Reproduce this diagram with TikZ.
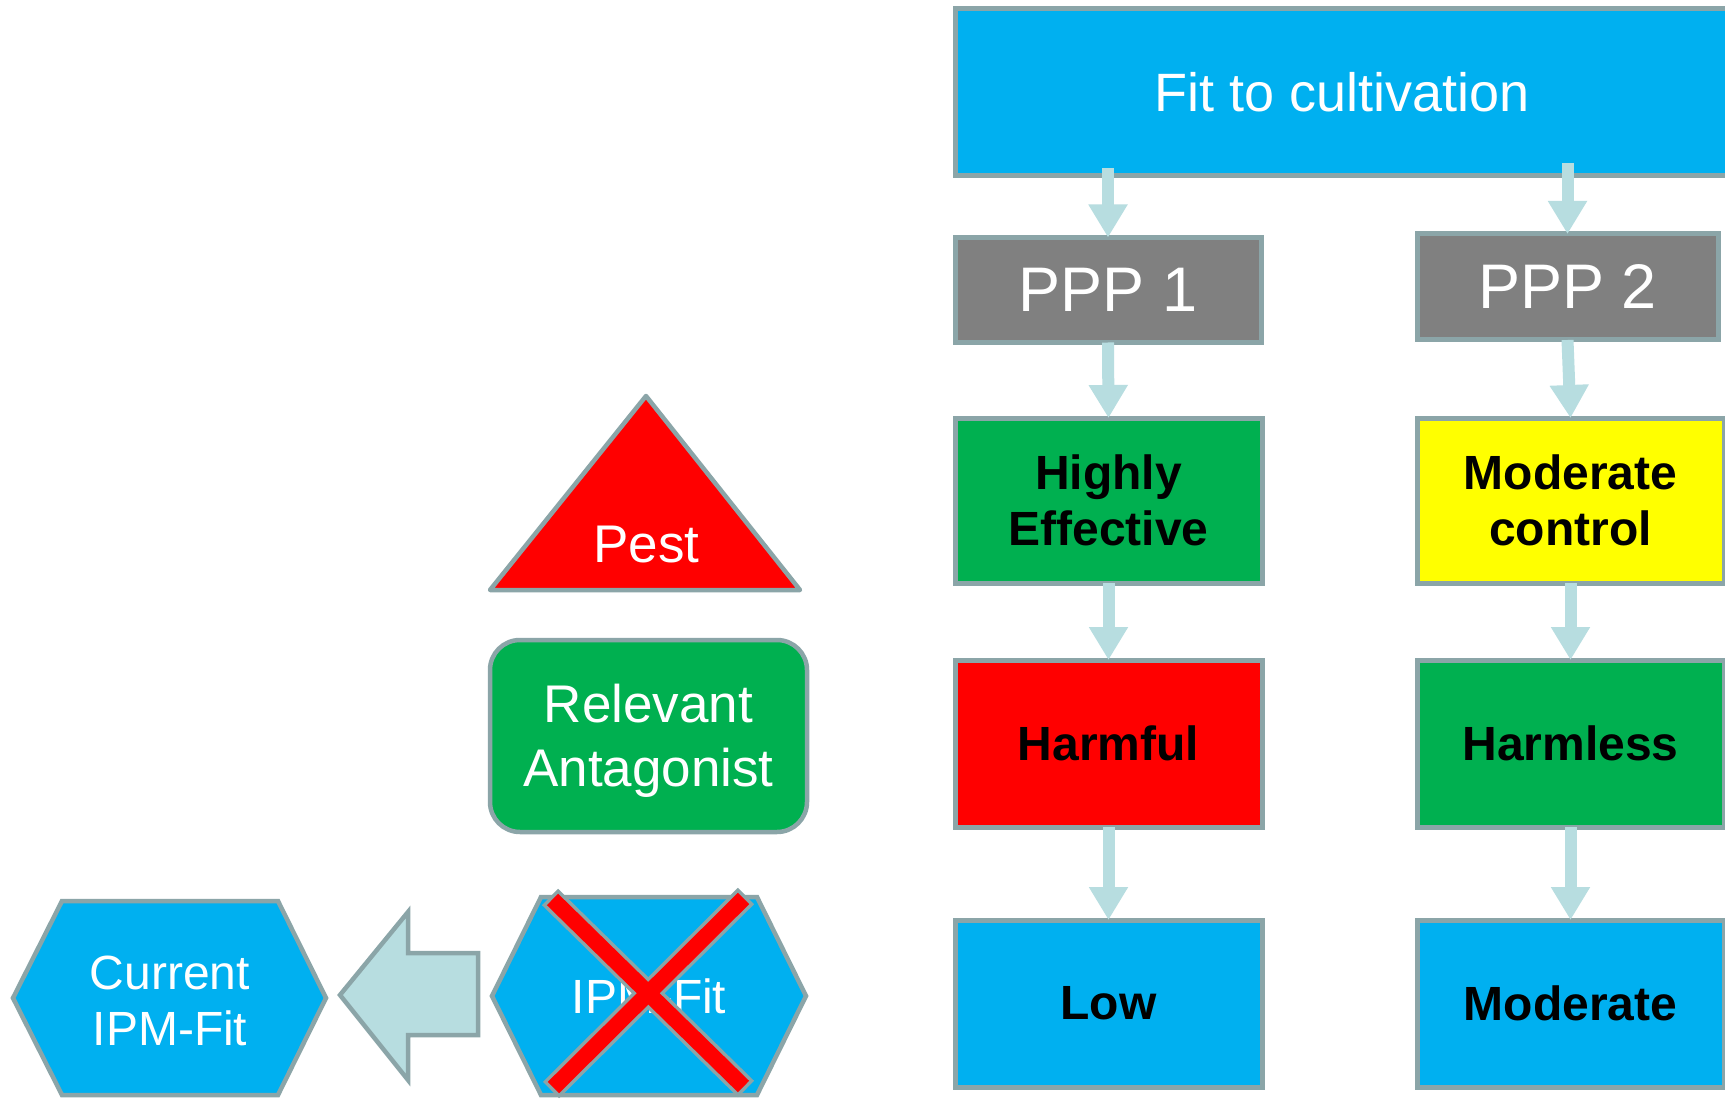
\documentclass[tikz,border=0pt]{standalone}
\usepackage{fontspec}
\setmainfont{Liberation Sans}
\usetikzlibrary{arrows.meta,calc}

\definecolor{skyblue}{HTML}{00B0F0}
\definecolor{leafgreen}{HTML}{00B050}
\definecolor{alertred}{HTML}{FF0000}
\definecolor{warnyellow}{HTML}{FFFF00}
\definecolor{midgray}{HTML}{808080}
\definecolor{edgegray}{HTML}{8BA5A8}
\definecolor{flowblue}{HTML}{B7DDE0}

\begin{document}
\begin{tikzpicture}[x=1pt,y=-1pt,
  box/.style={draw=edgegray, line width=5pt, outer sep=0pt, inner sep=0pt, align=center},
  whitelabel/.style={text=white, font=\fontsize{53}{64}\selectfont, align=center},
  hexlabel/.style={text=white, font=\fontsize{48}{56}\selectfont, align=center},
  boldlabel/.style={text=black, font=\bfseries\fontsize{48}{56}\selectfont},
  flow/.style={draw=flowblue, line width=12pt, -{Triangle[width=37pt,length=33pt]}},
  outlined/.style={draw=edgegray, line width=4.5pt, line join=round}
]
\useasboundingbox (0,0) rectangle (1725,1099);
\clip (0,0) rectangle (1725,1099);
\fill[white] (0,0) rectangle (1725,1099);

% ---- decision tree on the right ----
\node[box, fill=skyblue, minimum width=774, minimum height=167, text=white,
      font=\fontsize{54}{60}\selectfont] (top) at (1342,92.5) {Fit to cultivation};

\node[box, fill=midgray, minimum width=306, minimum height=105, text=white,
      font=\fontsize{63}{70}\selectfont] (p1) at (1108,290) {PPP 1};
\node[box, fill=midgray, minimum width=301, minimum height=106, text=white,
      font=\fontsize{63}{70}\selectfont] (p2) at (1567.5,287) {PPP 2};

\node[box, boldlabel, fill=leafgreen, minimum width=307, minimum height=165] (he) at (1108.5,500.5) {Highly\\Effective};
\node[box, boldlabel, fill=warnyellow, minimum width=307, minimum height=165] (mc) at (1570.5,500.5) {Moderate\\control};

\node[box, boldlabel, fill=alertred, minimum width=307, minimum height=167] (harmful) at (1108.5,743.5) {Harmful};
\node[box, boldlabel, fill=leafgreen, minimum width=307, minimum height=167] (harmless) at (1570.5,743.5) {Harmless};

\node[box, boldlabel, fill=skyblue, minimum width=307, minimum height=167] (low) at (1108.5,1003.5) {Low};
\node[box, boldlabel, fill=skyblue, minimum width=307, minimum height=167] (moderate) at (1570.5,1003.5) {Moderate};

\draw[flow] ($(top.south -| p1.north)+(0,-8)$) -- (p1.north);
\draw[flow] ($(top.south -| p2.north)+(0,-13)$) -- (p2.north);
\draw[flow] (p1.south) -- (he.north);
\draw[flow] (p2.south) -- (mc.north);
\draw[flow] (he.south) -- (harmful.north);
\draw[flow] (mc.south) -- (harmless.north);
\draw[flow] (harmful.south) -- (low.north);
\draw[flow] (harmless.south) -- (moderate.north);

% ---- legend shapes on the left ----
\draw[outlined, fill=alertred] (646,396) -- (800,590) -- (490,590) -- cycle;
\node[whitelabel, anchor=base] (pest) at (646.5,562) {Pest};

\node[box, line width=4.5pt, fill=leafgreen, rounded corners=30pt,
      minimum width=317, minimum height=192] (antag) at (648.5,736) {};
\node[whitelabel] (antagtext) at (648.5,741) {Relevant\\Antagonist};

% crossed-out hexagon
\draw[outlined, line join=miter, fill=skyblue] (492,996) -- (541,897) -- (757,897) -- (806,996)
  -- (757,1095) -- (541,1095) -- cycle;
\node[hexlabel] (ipmfit) at (649,996) {IPM-Fit};
\coordinate (xa1) at (550,897);
\coordinate (xb1) at (746,1089);
\coordinate (xa2) at (746,896);
\coordinate (xb2) at (551,1090);
\draw[edgegray, line width=23pt] (xa1) -- (xb1);
\draw[edgegray, line width=23pt] (xa2) -- (xb2);
\draw[alertred, line width=16pt, shorten <=3.5pt, shorten >=3.5pt] (xa1) -- (xb1);
\draw[alertred, line width=16pt, shorten <=3.5pt, shorten >=3.5pt] (xa2) -- (xb2);

% block arrow pointing left
\draw[outlined, line join=miter, fill=flowblue] (340,995) -- (408,912) -- (408,953) -- (478,953)
  -- (478,1035) -- (408,1035) -- (408,1080) -- cycle;

% resulting hexagon
\draw[outlined, line join=miter, fill=skyblue] (13,998) -- (62,901) -- (278,901) -- (326,998)
  -- (278,1095) -- (62,1095) -- cycle;
\node[hexlabel] (current) at (170,1001) {Current\\IPM-Fit};
\end{tikzpicture}
\end{document}
